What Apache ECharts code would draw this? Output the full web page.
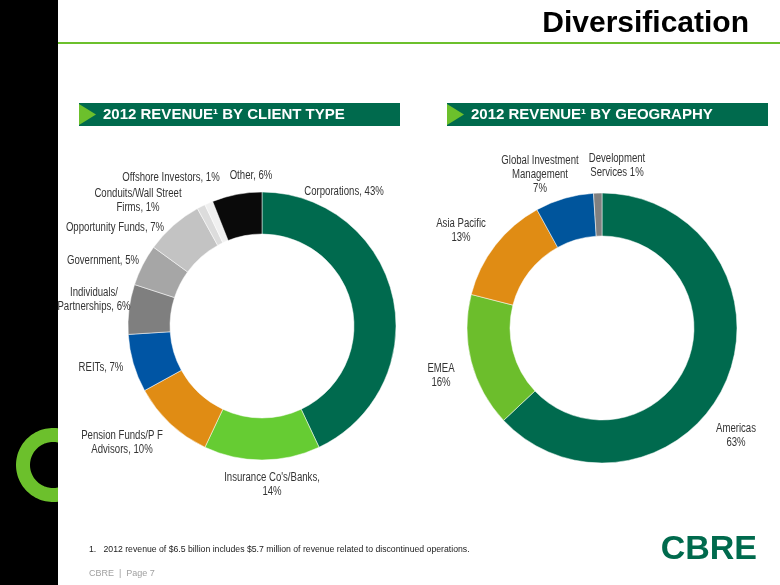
<!DOCTYPE html>
<html>
<head>
<meta charset="utf-8">
<script src="https://cdn.jsdelivr.net/npm/echarts@6/dist/echarts.min.js"></script>
<style>
html,body{margin:0;padding:0;background:#fff;}
#chart{width:780px;height:585px;}
</style>
</head>
<body>
<div id="chart"></div>
<script>
// ---- Data ----
const leftCategories = ['Corporations', "Insurance Co's/Banks", 'Pension Funds/P F\nAdvisors', 'REITs', 'Individuals/\nPartnerships', 'Government', 'Opportunity Funds', 'Conduits/Wall Street\nFirms', 'Offshore Investors', 'Other'];
const leftValues = [43, 14, 10, 7, 6, 5, 7, 1, 1, 6];
const leftSeparators = [', ', ',\n', ', ', ', ', ', ', ', ', ', ', ', ', ', ', ', '];
const rightCategories = ['Americas', 'EMEA', 'Asia Pacific', 'Global Investment\nManagement', 'Development\nServices'];
const rightValues = [63, 16, 13, 7, 1];
const rightSeparators = ['\n', '\n', '\n', '\n', ' '];

// ---- Styles / layout ----
const leftColors = ['#006A4E', '#66CC33', '#E08C14', '#0055A4', '#7F7F7F', '#A6A6A6', '#C3C3C3', '#DCDCDC', '#F0F0F0', '#0A0A0A'];
const rightColors = ['#006A4E', '#6CBE2C', '#E08C14', '#00559C', '#808080'];
const leftLabelPos = [[344, 192], [272, 485], [122, 443], [101, 368], [94, 300], [103, 261], [115, 228], [138, 201], [171, 178], [251, 176]];
const rightLabelPos = [[736, 436], [441, 376], [461, 231], [540, 175], [617, 166]];
const baseFont = '"Liberation Sans", Arial, sans-serif';

function pieData(cats, vals, cols) {
  return cats.map((c, i) => ({ name: c, value: vals[i], itemStyle: { color: cols[i] } }));
}

function labelTexts(cats, vals, seps, pos) {
  return cats.map((c, i) => ({
    type: 'text',
    x: pos[i][0],
    y: pos[i][1],
    scaleX: 0.8,
    z: 10,
    style: {
      text: c + seps[i] + vals[i] + '%',
      fill: '#333',
      font: '12px ' + baseFont,
      lineHeight: 14,
      align: 'center',
      verticalAlign: 'middle'
    }
  }));
}

function ringPolygon(cx, cy, ro, ri, xCut) {
  const pts = [];
  const aO = Math.acos((xCut - cx) / ro);
  const aI = Math.acos((xCut - cx) / ri);
  const n = 60;
  for (let k = 0; k <= n; k++) {
    const a = -aO - (2 * Math.PI - 2 * aO) * k / n;
    pts.push([cx + ro * Math.cos(a), cy + ro * Math.sin(a)]);
  }
  for (let k = 0; k <= n; k++) {
    const a = -(2 * Math.PI - aI) + (2 * Math.PI - 2 * aI) * k / n;
    pts.push([cx + ri * Math.cos(a), cy + ri * Math.sin(a)]);
  }
  return pts;
}

const chart = echarts.init(document.getElementById('chart'), null, { renderer: 'canvas' });

function headerBox(x, text) {
  return [
    { type: 'rect', shape: { x: x, y: 103, width: 321, height: 23 }, style: { fill: '#006A4D' }, z: 1 },
    { type: 'polygon', shape: { points: [[x, 104], [x + 17, 114.5], [x, 125]] }, style: { fill: '#6CC02C' }, z: 2 },
    { type: 'text', x: x + 24, y: 115, style: { text: text, fill: '#fff', font: 'bold 15px ' + baseFont, verticalAlign: 'middle' }, z: 2 }
  ];
}

const option = {
  backgroundColor: '#ffffff',
  animation: false,
  graphic: {
    elements: [
      { type: 'rect', shape: { x: 0, y: 0, width: 58, height: 585 }, style: { fill: '#000' }, z: 0 },
      { type: 'polygon', shape: { points: ringPolygon(53, 465, 37, 23, 58) }, style: { fill: '#6CC02C' }, z: 1 },
      { type: 'rect', shape: { x: 58, y: 42, width: 722, height: 2 }, style: { fill: '#6CC02C' }, z: 1 },
      { type: 'text', x: 749, y: 24, style: { text: 'Diversification', fill: '#000', font: 'bold 30px ' + baseFont, align: 'right', verticalAlign: 'middle' }, z: 1 },
      ...headerBox(79, '2012 REVENUE\u00B9 BY CLIENT TYPE'),
      ...headerBox(447, '2012 REVENUE\u00B9 BY GEOGRAPHY'),
      { type: 'text', x: 89, y: 550, style: { text: '1.   2012 revenue of $6.5 billion includes $5.7 million of revenue related to discontinued operations.', fill: '#222', font: '8.7px ' + baseFont, verticalAlign: 'middle' }, z: 1 },
      { type: 'text', x: 89, y: 574, style: { text: 'CBRE  |  Page 7', fill: '#A0A0A0', font: '9px ' + baseFont, verticalAlign: 'middle' }, z: 1 },
      { type: 'text', x: 757, y: 550, style: { text: 'CBRE', fill: '#006A4D', font: 'bold 34px ' + baseFont, align: 'right', verticalAlign: 'middle' }, z: 1 },
      ...labelTexts(leftCategories, leftValues, leftSeparators, leftLabelPos),
      ...labelTexts(rightCategories, rightValues, rightSeparators, rightLabelPos)
    ]
  },
  series: [
    {
      type: 'pie',
      center: [262, 326],
      radius: [92, 134],
      startAngle: 90,
      clockwise: true,
      silent: true,
      itemStyle: { borderColor: '#ffffff', borderWidth: 0.5 },
      label: { show: false },
      labelLine: { show: false },
      data: pieData(leftCategories, leftValues, leftColors)
    },
    {
      type: 'pie',
      center: [602, 328],
      radius: [92, 135],
      startAngle: 90,
      clockwise: true,
      silent: true,
      itemStyle: { borderColor: '#ffffff', borderWidth: 0.5 },
      label: { show: false },
      labelLine: { show: false },
      data: pieData(rightCategories, rightValues, rightColors)
    }
  ]
};
chart.setOption(option);
</script>
</body>
</html>
